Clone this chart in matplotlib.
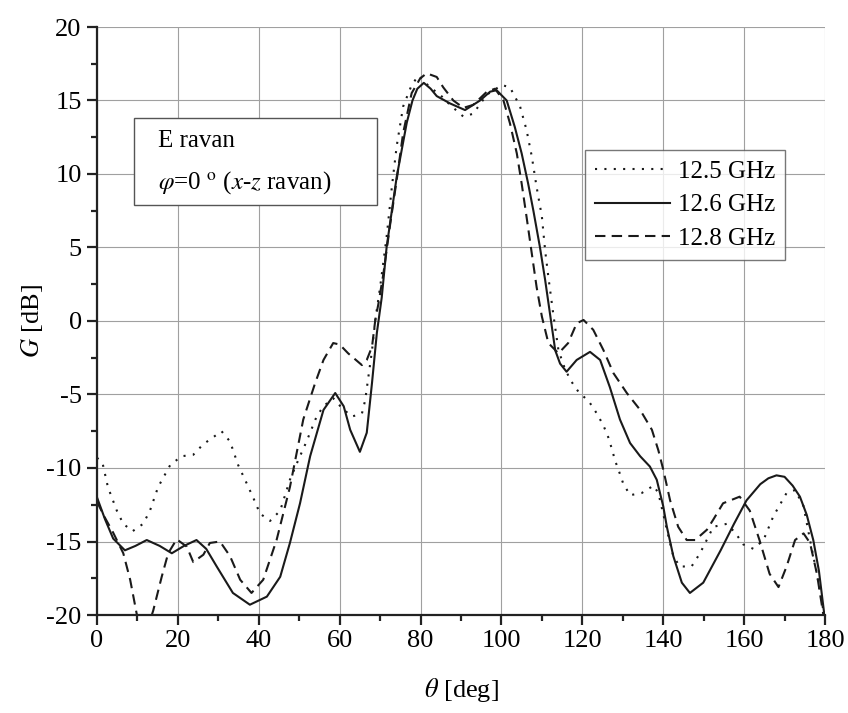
import matplotlib
matplotlib.use("Agg")
import matplotlib.pyplot as plt
from matplotlib.patches import Rectangle
from matplotlib.ticker import MultipleLocator

plt.rcParams['font.family'] = ['Liberation Serif', 'DejaVu Serif']
plt.rcParams['mathtext.fontset'] = 'stix'

# 12.5 GHz (dotted)
x125 = [0, 1.4, 2.7, 4.9, 6.5, 8.8, 11.4, 13.1, 15.1, 18.1, 20.9, 23.8, 26.2, 30.8, 32.9, 34.9,
        36.6, 38.6, 40.3, 42.8, 45.3, 47.7, 49.7, 51.8, 54.3, 56.0, 58.4, 60.5, 63.0, 65.5, 66.3,
        67.1, 68.0, 68.8, 70.0, 71.6, 72.9, 74.1, 75.7, 77.8, 79.5, 82.3, 84.8, 87.3, 90.6, 93.0,
        96.4, 100.1, 102.1, 104.6, 106.2, 107.5, 108.7, 110.0, 110.8, 111.6, 112.8, 114.1, 115.5,
        117.0, 119.0, 121.7, 123.6, 125.2, 126.4, 127.3, 128.1, 129.1, 130.1, 131.8, 134.7, 137.6,
        138.8, 140.9, 142.5, 144.1, 147.0, 149.1, 152.4, 155.7, 157.8, 159.8, 162.3, 164.8, 167.2,
        170.5, 172.6, 174.7, 176.3, 178.0, 179.6]
g125 = [-9.3, -9.7, -11.3, -12.9, -13.8, -14.3, -13.8, -12.9, -11.3, -9.8, -9.2, -9.1, -8.4, -7.5, -8.2, -9.8,
        -10.8, -12.0, -13.1, -13.6, -12.9, -10.8, -9.5, -8.2, -6.5, -5.8, -5.25, -5.9, -6.5, -6.3, -5.4,
        -3.8, -2.0, 0.05, 2.3, 5.7, 9.1, 11.9, 14.6, 16.05, 16.7, 15.9, 15.4, 14.7, 13.9, 14.1,
        15.4, 16.05, 15.9, 14.6, 13.0, 11.2, 9.1, 7.1, 4.8, 3.0, 0.5, -2.0, -3.1,
        -4.0, -4.8, -5.5, -6.3, -7.1, -7.9, -8.7, -9.5, -10.25, -11.05, -11.85, -11.7, -11.2,
        -11.7, -14.2, -16.0, -16.7, -16.7, -15.8, -14.0, -13.8, -14.4, -15.2, -15.5, -14.9, -13.3,
        -11.7, -11.5, -12.6, -14.9, -17.2, -19.7]

# 12.6 GHz (solid)
x126 = [0, 2, 4, 6.9, 9.5, 12.3, 15.5, 18.5, 21.5, 24.6, 27, 29.6, 33.6, 37.8, 42, 45.3, 47.7, 50.2,
        52.7, 56.0, 58.9, 61.0, 62.6, 65.0, 66.7, 68.0, 69.2, 70.4, 71.6, 74.1, 76.6, 78.0, 79.2,
        80.8, 82.5, 84.0, 87.3, 91.0, 94.7, 97.2, 98.8, 101.3, 103.3, 105.0, 106.6, 107.9, 109.5,
        110.8, 112.0, 113.3, 114.5, 116.1, 118.6, 121.9, 124.4, 126.8, 129.3, 131.8, 134.3, 136.7,
        138.4, 140.0, 140.9, 142.5, 144.6, 146.6, 149.9, 154.2, 157.5, 160.6, 164.0, 166.0, 168.0,
        170.0, 172.0, 173.8, 175.5, 177.1, 178.5, 179.8]
g126 = [-12.0, -13.5, -14.8, -15.6, -15.3, -14.9, -15.3, -15.8, -15.3, -14.9, -15.5, -16.7, -18.5, -19.3,
        -18.75, -17.4, -15.1, -12.4, -9.2, -6.05, -4.9, -5.8, -7.4, -8.9, -7.6, -4.2, -0.8, 1.6, 5.0,
        9.8, 13.5, 15.0, 15.8, 16.2, 15.8, 15.3, 14.8, 14.35, 15.0, 15.6, 15.7, 15.0, 13.2, 11.4, 9.35,
        7.5, 5.05, 2.8, 0.5, -2.0, -2.9, -3.45, -2.65, -2.1, -2.65, -4.5, -6.7, -8.3, -9.2, -9.9,
        -10.8, -12.6, -14.0, -16.0, -17.8, -18.5, -17.8, -15.6, -13.8, -12.2, -11.1, -10.7, -10.5,
        -10.6, -11.2, -11.95, -13.2, -14.9, -17.0, -19.9]

# 12.8 GHz (dashed)
x128 = [0, 2, 4, 6.5, 8.2, 9.8, 11.8, 13.9, 16, 17.6, 19.7, 22.2, 23.8, 26.3, 27.9, 30.4, 32.9, 35.4,
        38.2, 41.1, 44.4, 47.7, 51.0, 53.9, 56.0, 58.4, 60.0, 62.1, 65.5, 66.7, 68.0, 68.8, 69.6,
        70.8, 72.5, 74.1, 75.7, 77.8, 79.9, 81.5, 84.0, 85.6, 88.1, 90.6, 93.0, 96.4, 98.4, 100.5,
        102.1, 103.8, 105.0, 106.2, 107.5, 108.7, 110.0, 111.6, 114.1, 116.5, 118.6, 120.3, 122.7,
        125.2, 127.7, 131.0, 134.3, 137.2, 138.8, 140.0, 141.7, 143.7, 145.8, 147.9, 150.8, 152.4,
        154.8, 158.9, 161.4, 163.8, 166.3, 168.5, 170.5, 172.6, 174.7, 176.3, 178.0, 179.6]
g128 = [-12.3, -13.4, -14.4, -15.8, -17.6, -19.9, -21.5, -19.7, -17.4, -15.8, -14.85, -15.35, -16.4,
        -15.9, -15.1, -15.0, -16.0, -17.6, -18.5, -17.6, -14.9, -11.3, -6.7, -4.25, -2.65, -1.5, -1.6,
        -2.2, -3.0, -2.65, -1.75, 0.05, 1.2, 3.2, 6.6, 9.6, 12.8, 15.5, 16.5, 16.85, 16.6, 15.9, 15.0,
        14.5, 14.7, 15.6, 15.8, 15.0, 13.45, 11.4, 9.35, 7.1, 4.6, 2.3, 0.3, -1.5, -2.2, -1.5, -0.16,
        0.07, -0.6, -1.97, -3.55, -4.9, -6.05, -7.4, -8.8, -10.1, -12.2, -14.0, -14.9, -14.9, -14.2,
        -13.5, -12.4, -11.95, -12.9, -14.9, -17.2, -18.1, -16.7, -14.9, -14.45, -15.1, -17.2, -20.0]

labels = ['12.5 GHz', '12.6 GHz', '12.8 GHz']
xticks = [0, 20, 40, 60, 80, 100, 120, 140, 160, 180]
yticks = [-20, -15, -10, -5, 0, 5, 10, 15, 20]

fig = plt.figure(figsize=(8.48, 7.13), dpi=100)
ax = fig.add_axes([97/848, 1-615/713, 728/848, 588/713])

lw = 1.5
ax.plot(x125, g125, color='#1a1a1a', lw=lw, linestyle=(0, (1, 3.5)), label=labels[0])
ax.plot(x126, g126, color='#1a1a1a', lw=lw, linestyle='-', label=labels[1])
ax.plot(x128, g128, color='#1a1a1a', lw=lw, linestyle=(0, (5, 3)), label=labels[2])

ax.set_xlim(0, 180)
ax.set_ylim(-20, 20)
ax.set_xticks(xticks)
ax.set_yticks(yticks)
ax.set_yticklabels([str(v) for v in yticks])
ax.xaxis.set_minor_locator(MultipleLocator(10))
ax.yaxis.set_minor_locator(MultipleLocator(2.5))
ax.grid(True, which='major', color='#a0a0a0', lw=0.8)
ax.set_axisbelow(True)
for s in ['top', 'right']:
    ax.spines[s].set_visible(False)
for s in ['left', 'bottom']:
    ax.spines[s].set_linewidth(1.6)
    ax.spines[s].set_color('#222222')
ax.tick_params(which='major', direction='out', length=7, width=1.6, labelsize=19, color='#222222', pad=4)
ax.tick_params(which='minor', direction='out', length=4, width=1.6, color='#222222')

ax.set_xlabel(r'$\theta$ [deg]', fontsize=19)
ax.set_ylabel(r'$G$ [dB]', fontsize=19)
ax.xaxis.set_label_coords((461-97)/728, (615-690)/588)
ax.yaxis.set_label_coords((32-97)/728, 0.5)
ax.xaxis.label.set_va('center')
ax.yaxis.label.set_va('center')

leg = ax.legend(loc='upper left', bbox_to_anchor=((585-97)/728, (615-150)/588), borderaxespad=0,
                fontsize=18, frameon=True, fancybox=False, handlelength=3.0, handletextpad=0.3,
                labelspacing=0.45, borderpad=0.4)
leg.get_frame().set_edgecolor('#555555')
leg.get_frame().set_linewidth(1.0)

x0 = (134-97)/728; x1 = (377-97)/728
y0 = (615-205)/588; y1 = (615-118)/588
ax.add_patch(Rectangle((x0, y0), x1-x0, y1-y0, transform=ax.transAxes, facecolor='white',
                       edgecolor='#555555', lw=1.0, zorder=5))
ax.text((158-97)/728, (615-141)/588, 'E ravan', transform=ax.transAxes, fontsize=18,
        va='center', ha='left', zorder=6)
ax.text((158-97)/728, (615-183)/588, r'$\varphi$=0 $^{\rm o}$ ($x$-$z$ ravan)', transform=ax.transAxes,
        fontsize=18, va='center', ha='left', zorder=6)

fig.savefig('out.png', dpi=100)
